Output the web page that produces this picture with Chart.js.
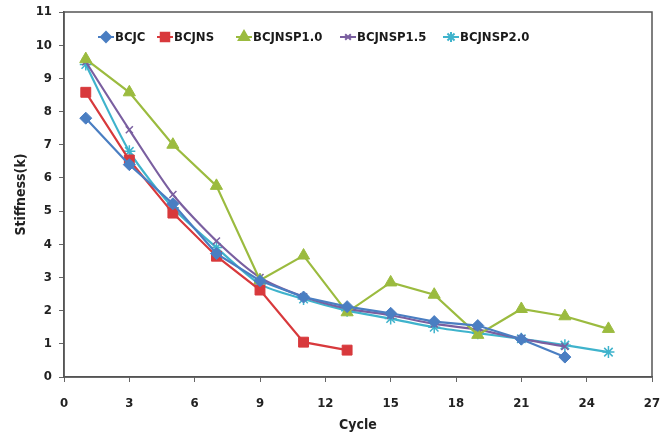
<!DOCTYPE html>
<html>
<head>
<meta charset="utf-8">
<script src="https://cdn.jsdelivr.net/npm/chart.js@4/dist/chart.umd.min.js"></script>
<style>
  html, body { margin: 0; padding: 0; background: #fff; }
  #wrap { width: 665px; height: 434px; }
</style>
</head>
<body>
<div id="wrap"><canvas id="myChart" width="665" height="434"></canvas></div>
<script>
let cycles = [1, 3, 5, 7, 9, 11, 13, 15, 17, 19, 21, 23, 25];
let bcjc = [7.8, 6.4, 5.22, 3.72, 2.9, 2.41, 2.12, 1.92, 1.67, 1.55, 1.14, 0.6];
let bcjns = [8.58, 6.54, 4.94, 3.64, 2.62, 1.05, 0.81];
let bcjnsp10 = [9.58, 8.58, 7.0, 5.76, 2.92, 3.66, 1.95, 2.85, 2.48, 1.27, 2.05, 1.83, 1.45];
let bcjnsp15 = [9.5, 7.45, 5.5, 4.1, 3.0, 2.42, 2.06, 1.86, 1.6, 1.43, 1.15, 0.92];
let bcjnsp20 = [9.42, 6.8, 5.1, 3.9, 2.8, 2.35, 2.0, 1.76, 1.5, 1.32, 1.15, 0.96, 0.75];
let names = ['BCJC', 'BCJNS', 'BCJNSP1.0', 'BCJNSP1.5', 'BCJNSP2.0'];
let colors = ['#4A7EC2', '#D8393C', '#9BBB3F', '#7A5FA0', '#3FB3CC'];
let shapes = ['rectRot', 'rect', 'triangle', 'crossRot', 'star'];
let radii = [6, 7, 7, 5, 6];

const font = "'Liberation Sans Narrow', 'DejaVu Sans Condensed', sans-serif";

function pts(vals) {
  return vals.map((v, i) => ({ x: cycles[i], y: v }));
}

let series = [bcjc, bcjns, bcjnsp10, bcjnsp15, bcjnsp20];

// legend sits inside the plot, line + marker + label
let insideLegend = {
  id: 'insideLegend',
  afterDraw(chart) {
    let c = chart.ctx;
    let xs = [98, 157, 236, 340, 443];
    let y = 37;
    c.save();
    c.font = 'bold 13px ' + font;
    c.textBaseline = 'middle';
    names.forEach((n, i) => {
      c.strokeStyle = colors[i];
      c.lineWidth = 2;
      c.beginPath();
      c.moveTo(xs[i], y);
      c.lineTo(xs[i] + 16, y);
      c.stroke();
      c.fillStyle = colors[i];
      Chart.helpers.drawPoint(c, { pointStyle: shapes[i], radius: radii[i] - 1, borderWidth: 1 }, xs[i] + 8, y);
      c.fillStyle = '#1a1a1a';
      c.fillText(n, xs[i] + 17, y + 1);
    });
    c.restore();
  }
};

// frame round the plot area
let frame = {
  id: 'frame',
  afterDraw(chart) {
    let a = chart.chartArea;
    let c = chart.ctx;
    c.save();
    c.strokeStyle = '#555';
    c.lineWidth = 1.5;
    c.strokeRect(a.left, a.top, a.right - a.left, a.bottom - a.top);
    c.restore();
  }
};

let ctx = document.getElementById('myChart').getContext('2d');
let myChart = new Chart(ctx, {
  type: 'scatter',
  data: {
    datasets: series.map((s, i) => ({
      label: names[i],
      data: pts(s),
      showLine: true,
      borderColor: colors[i],
      backgroundColor: colors[i],
      borderWidth: 2.2,
      pointStyle: shapes[i],
      pointRadius: radii[i],
      pointBorderWidth: shapes[i] === 'crossRot' || shapes[i] === 'star' ? 1.5 : 1,
      tension: i >= 3 ? 0.25 : 0
    }))
  },
  options: {
    responsive: false,
    animation: false,
    layout: { padding: { left: 0, right: 13, top: 12, bottom: 0 } },
    plugins: {
      legend: { display: false },
      tooltip: { enabled: false }
    },
    scales: {
      x: {
        min: 0, max: 27,
        afterFit(scale) { scale.height = 57; scale.paddingRight = 0; scale.paddingLeft = 0; },
        ticks: { stepSize: 3, color: '#222', font: { family: font, size: 13, weight: 'bold' }, padding: 14 },
        grid: { drawOnChartArea: false, tickLength: 5, color: '#666' },
        border: { color: '#555', width: 1.5 },
        title: { display: true, text: 'Cycle', color: '#222', font: { family: font, size: 14, weight: 'bold' }, padding: { top: 0, bottom: 0 } }
      },
      y: {
        min: 0, max: 11,
        afterFit(scale) { scale.width = 64; scale.paddingTop = 0; scale.paddingBottom = 0; },
        ticks: { stepSize: 1, color: '#222', font: { family: font, size: 13, weight: 'bold' }, padding: 7 },
        grid: { drawOnChartArea: false, tickLength: 5, color: '#666' },
        border: { color: '#555', width: 1.5 },
        title: { display: true, text: 'Stiffness(k)', color: '#222', font: { family: font, size: 14, weight: 'bold' }, padding: { top: 13, bottom: 0 } }
      }
    }
  },
  plugins: [frame, insideLegend]
});
</script>
</body>
</html>
